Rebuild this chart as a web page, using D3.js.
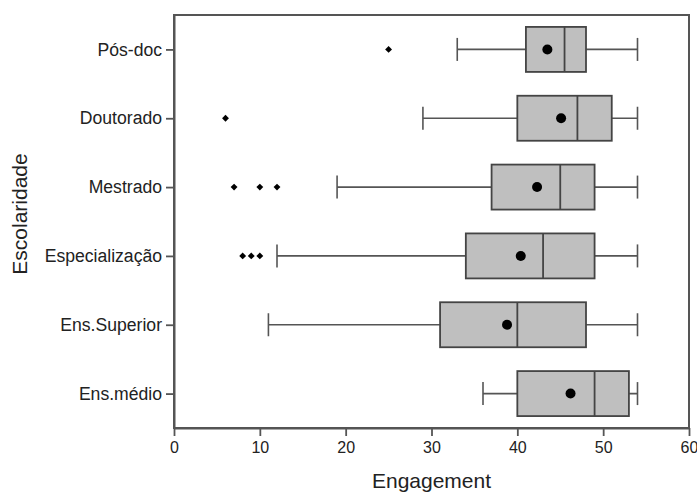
<!DOCTYPE html>
<html>
<head>
<meta charset="utf-8">
<script src="https://cdn.jsdelivr.net/npm/d3@7"></script>
<style>
  html, body { margin: 0; padding: 0; background: #fff; }
  svg { display: block; font-family: "Liberation Sans", Arial, sans-serif; }
</style>
</head>
<body>
<svg id="chart" width="697" height="493"></svg>
<script>
// Engagement by education level (top to bottom as listed)
const categories = ["Pós-doc", "Doutorado", "Mestrado", "Especialização", "Ens.Superior", "Ens.médio"];
const whiskerLow  = [33, 29, 19, 12, 11, 36];
const q1          = [41, 40, 37, 34, 31, 40];
const median      = [45.5, 47, 45, 43, 40, 49];
const q3          = [48, 51, 49, 49, 48, 53];
const whiskerHigh = [54, 54, 54, 54, 54, 54];
const means       = [43.5, 45.1, 42.3, 40.4, 38.8, 46.2];
const outliers    = [[25], [6], [7, 10, 12], [8, 9, 10], [], []];
const xTicks = [0, 10, 20, 30, 40, 50, 60];

const margin = { left: 174, right: 8, top: 15, bottom: 65 };
const W = 697, H = 493;
const svg = d3.select("#chart");

const x = d3.scaleLinear().domain([0, 60]).range([margin.left, W - margin.right]);
const y = d3.scalePoint().domain(categories).range([margin.top, H - margin.bottom]).padding(0.5);

const lineCol = "#555";
const textCol = "#222";
const boxH = 45, capH = 23;

const rows = categories.map((c, i) => ({
  cat: c, lo: whiskerLow[i], q1: q1[i], med: median[i], q3: q3[i], hi: whiskerHigh[i],
  mean: means[i], out: outliers[i]
}));

const g = svg.append("g");

// whiskers
g.selectAll("line.wh").data(rows).join("line")
  .attr("x1", d => x(d.lo)).attr("x2", d => x(d.hi))
  .attr("y1", d => y(d.cat)).attr("y2", d => y(d.cat))
  .attr("stroke", lineCol).attr("stroke-width", 1.6);
// caps
["lo", "hi"].forEach(k => {
  g.selectAll("line.cap-" + k).data(rows).join("line")
    .attr("x1", d => x(d[k])).attr("x2", d => x(d[k]))
    .attr("y1", d => y(d.cat) - capH / 2).attr("y2", d => y(d.cat) + capH / 2)
    .attr("stroke", lineCol).attr("stroke-width", 1.6);
});
// boxes
g.selectAll("rect.box").data(rows).join("rect")
  .attr("x", d => x(d.q1)).attr("width", d => x(d.q3) - x(d.q1))
  .attr("y", d => y(d.cat) - boxH / 2).attr("height", boxH)
  .attr("fill", "#bfbfbf").attr("stroke", "#444").attr("stroke-width", 1.8);
// medians
g.selectAll("line.med").data(rows).join("line")
  .attr("x1", d => x(d.med)).attr("x2", d => x(d.med))
  .attr("y1", d => y(d.cat) - boxH / 2).attr("y2", d => y(d.cat) + boxH / 2)
  .attr("stroke", "#444").attr("stroke-width", 1.8);
// means
g.selectAll("circle.mean").data(rows).join("circle")
  .attr("cx", d => x(d.mean)).attr("cy", d => y(d.cat)).attr("r", 5)
  .attr("fill", "#000");
// outliers (diamonds)
const outPts = rows.flatMap(d => d.out.map(v => ({ cat: d.cat, v })));
g.selectAll("path.out").data(outPts).join("path")
  .attr("transform", d => `translate(${x(d.v)},${y(d.cat)})`)
  .attr("d", d3.symbol(d3.symbolDiamond2, 30))
  .attr("fill", "#000");

// frame
svg.append("rect")
  .attr("x", margin.left).attr("y", margin.top)
  .attr("width", W - margin.right - margin.left).attr("height", H - margin.bottom - margin.top)
  .attr("fill", "none").attr("stroke", lineCol).attr("stroke-width", 2);

// axes
const xAxis = svg.append("g").attr("transform", `translate(0,${H - margin.bottom})`)
  .call(d3.axisBottom(x).tickValues(xTicks).tickSize(8).tickSizeOuter(0).tickPadding(6));
const yAxis = svg.append("g").attr("transform", `translate(${margin.left},0)`)
  .call(d3.axisLeft(y).tickSize(8).tickSizeOuter(0).tickPadding(4));
[xAxis, yAxis].forEach(a => {
  a.select(".domain").attr("stroke", lineCol).attr("stroke-width", 2);
  a.selectAll(".tick line").attr("stroke", lineCol).attr("stroke-width", 1.8);
  a.selectAll(".tick text").attr("fill", textCol).attr("font-family", "Liberation Sans, Arial, sans-serif");
});
xAxis.selectAll(".tick text").attr("font-size", 16);
yAxis.selectAll(".tick text").attr("font-size", 17.6);

// axis titles
svg.append("text")
  .attr("x", (margin.left + W - margin.right) / 2).attr("y", 488)
  .attr("text-anchor", "middle").attr("font-size", 21).attr("fill", textCol)
  .text("Engagement");
svg.append("text")
  .attr("transform", `translate(27,214) rotate(-90)`)
  .attr("text-anchor", "middle").attr("font-size", 21).attr("fill", textCol)
  .text("Escolaridade");
</script>
</body>
</html>
